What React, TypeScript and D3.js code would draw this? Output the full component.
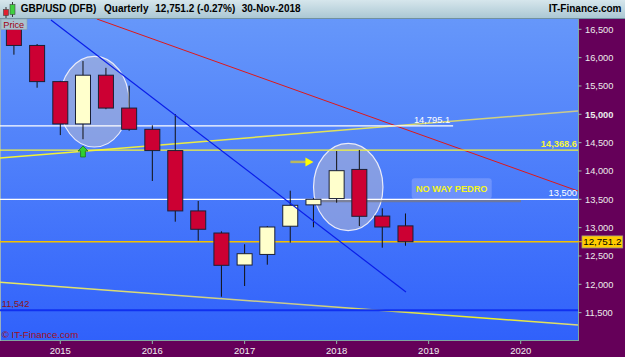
import React from "react";
import * as d3 from "d3";

// ---------- data ----------
const quarters = [
  "2014-07-01", "2014-10-01", "2015-01-01", "2015-04-01", "2015-07-01", "2015-10-01",
  "2016-01-01", "2016-04-01", "2016-07-01", "2016-10-01", "2017-01-01", "2017-04-01",
  "2017-07-01", "2017-10-01", "2018-01-01", "2018-04-01", "2018-07-01", "2018-10-01",
];
const opens = [17110, 16215, 15577, 14830, 15690, 15110, 14735, 14360, 13295, 12905, 12340, 12527, 13025, 13402, 13513, 14027, 13204, 13031];
const highs = [17190, 16240, 15590, 15940, 15820, 15505, 14806, 15005, 13470, 12935, 12706, 13029, 13652, 13520, 14352, 14370, 13341, 13250];
const lows = [16052, 15469, 14633, 14560, 15090, 14710, 13823, 13105, 12770, 11781, 11970, 12346, 12735, 13006, 13440, 13029, 12646, 12681];
const closes = [16215, 15577, 14830, 15690, 15110, 14735, 14360, 13295, 12971, 12335, 12540, 13011, 13394, 13500, 14005, 13200, 13011, 12751.2];

const yTicks = [16500, 16000, 15500, 15000, 14500, 14000, 13500, 13000, 12500, 12000, 11500];
const yearTicks = ["2015", "2016", "2017", "2018", "2019", "2020"];

// trend lines: [date, value] pairs
const blueTrend: [string, number][] = [["2014-11-25", 16664], ["2018-10-03", 11864]];
const redTrend: [string, number][] = [["2015-05-26", 16682], ["2020-08-15", 13647]];
const riseTrend: [string, number][] = [["2014-05-07", 14229], ["2020-08-15", 15058]];
const fallTrend: [string, number][] = [["2014-05-07", 12035], ["2020-08-15", 11282]];

const level147951 = 14795.1;
const level143686 = 14368.6;
const level13500 = 13500;
const lastClose = 12751.2;
const level11542 = 11542;

const title = "GBP/USD (DFB)";
const period = "Quarterly";
const lastText = "12,751.2 (-0.27%)";
const dateText = "30-Nov-2018";

// ---------- layout ----------
const W = 625, H = 357;
const PL = 0, PR = 578, PT = 19, PB = 341;
const FONT = "'Liberation Sans', Arial, sans-serif";

const parse = d3.timeParse("%Y-%m-%d");
const x = d3.scaleTime()
  .domain([parse("2015-01-01")!, parse("2020-01-01")!])
  .range([60.3, 520.7]);
const y = d3.scaleLinear().domain([15000, 12000]).range([114.3, 284.3]);
const fmt = d3.format(",");

const lineGen = d3.line<[string, number]>()
  .x((d) => x(parse(d[0])!))
  .y((d) => y(d[1]));

export default function App() {
  const candles = quarters.map((q, i) => ({
    cx: x(parse(q)!),
    o: opens[i], h: highs[i], l: lows[i], c: closes[i],
  }));
  const bw = 15;

  const e1 = { cx: x(parse("2015-05-16")!), cy: y(15222) };
  const e2 = { cx: x(parse("2018-02-16")!), cy: y(13717) };
  const arrowX = x(parse("2015-04-01")!);
  const arrowTip = y(14441);
  const yArrowY = y(14160);
  const yArrowX = x(parse("2017-10-01")!);

  return (
    <svg width={W} height={H} style={{ position: "fixed", left: 0, top: 0, display: "block" }} fontFamily={FONT}>
      <defs>
        <linearGradient id="bg" x1="0" y1="0" x2="0" y2="1">
          <stop offset="0" stopColor="#6697fa" />
          <stop offset="1" stopColor="#3061fb" />
        </linearGradient>
        <linearGradient id="hdr" x1="0" y1="0" x2="0" y2="1">
          <stop offset="0" stopColor="#d6e6ec" />
          <stop offset="1" stopColor="#a9c6d2" />
        </linearGradient>
        <linearGradient id="riseG" gradientUnits="userSpaceOnUse" x1="0" y1="0" x2="578" y2="0">
          <stop offset="0" stopColor="#f4f430" />
          <stop offset="0.5" stopColor="#e6e650" />
          <stop offset="1" stopColor="#c8c890" />
        </linearGradient>
        <linearGradient id="fallG" gradientUnits="userSpaceOnUse" x1="0" y1="0" x2="578" y2="0">
          <stop offset="0" stopColor="#e8e860" />
          <stop offset="0.5" stopColor="#c8c890" />
          <stop offset="0.85" stopColor="#f0f020" />
          <stop offset="1" stopColor="#d8d880" />
        </linearGradient>
        <clipPath id="plot">
          <rect x={PL} y={PT} width={PR - PL} height={PB - PT} />
        </clipPath>
      </defs>

      {/* axes backgrounds */}
      <rect x={0} y={0} width={W} height={H} fill="#650059" />
      <rect x={PL} y={PT} width={PR - PL} height={PB - PT} fill="url(#bg)" />
      <line x1={PR + 0.5} y1={PT} x2={PR + 0.5} y2={PB} stroke="#7fa5a0" />
      <line x1={PL} y1={PB - 0.5} x2={PR} y2={PB - 0.5} stroke="#7fa5a0" />
      <line x1={0.5} y1={PT} x2={0.5} y2={PB} stroke="#9ab0c0" />

      {/* header */}
      <rect x={0} y={0} width={W} height={PT} fill="url(#hdr)" />
      <line x1={0} y1={PT - 0.5} x2={W} y2={PT - 0.5} stroke="#7090a0" />
      {/* icon */}
      <line x1={6} y1={7} x2={6} y2={18} stroke="#333" />
      <rect x={3.5} y={9.5} width={5} height={6} fill="#e02030" stroke="#444" strokeWidth={0.6} />
      <line x1={12.5} y1={2} x2={12.5} y2={17} stroke="#333" />
      <rect x={10} y={4.5} width={5} height={10} fill="#40d040" stroke="#444" strokeWidth={0.6} />
      <g fontSize={10} fontWeight="bold" fill="#000">
        <text x={20.7} y={12}>{title}</text>
        <text x={104} y={12}>{period}</text>
        <text x={155.3} y={12}>{lastText}</text>
        <text x={241.7} y={12}>{dateText}</text>
        <text x={621.5} y={12} textAnchor="end">IT-Finance.com</text>
      </g>

      <g clipPath="url(#plot)">
        {/* ellipses (behind candles) */}
        <ellipse cx={e1.cx} cy={e1.cy} rx={34.7} ry={45.3} fill="rgba(190,190,205,0.5)" stroke="rgba(240,240,250,0.95)" strokeWidth={1.2} />
        <ellipse cx={e2.cx} cy={e2.cy} rx={34.7} ry={43.7} fill="rgba(190,190,205,0.5)" stroke="rgba(240,240,250,0.95)" strokeWidth={1.2} />

        {/* trend lines */}
        <path d={lineGen(fallTrend)!} stroke="url(#fallG)" strokeWidth={1.5} fill="none" />
        <path d={lineGen(riseTrend)!} stroke="url(#riseG)" strokeWidth={1.5} fill="none" />
        <path d={lineGen(redTrend)!} stroke="#e01818" strokeWidth={1} fill="none" />

        {/* horizontal levels */}
        <line x1={PL} x2={x(parse("2019-04-08")!)} y1={y(level147951)} y2={y(level147951)} stroke="#ffffff" strokeWidth={1.2} />
        <text x={x(parse("2019-04-08")!) - 3} y={y(level147951) - 3} fontSize={9.3} fill="#ffffff" textAnchor="end">{fmt(level147951)}</text>
        <line x1={PL} x2={PR} y1={y(level143686)} y2={y(level143686)} stroke="#f5f53a" strokeWidth={1.2} />
        <text x={PR - 1} y={y(level143686) - 3} fontSize={9.3} fontWeight="bold" fill="#f5f53a" textAnchor="end">{fmt(level143686)}</text>
        <line x1={x(parse("2017-11-01")!)} x2={521} y1={y(level13500) + 1.8} y2={y(level13500) + 1.8} stroke="rgba(120,120,130,0.75)" strokeWidth={2.5} />
        <line x1={PL} x2={PR} y1={y(level13500)} y2={y(level13500)} stroke="#ffffff" strokeWidth={1.2} />
        <text x={PR - 1} y={y(level13500) - 3} fontSize={9.3} fill="#ffffff" textAnchor="end">{fmt(level13500)}</text>
        <line x1={PL} x2={PR} y1={y(lastClose)} y2={y(lastClose)} stroke="#f2c000" strokeWidth={1.4} />
        <line x1={PL} x2={PR} y1={y(level11542)} y2={y(level11542)} stroke="#1030f0" strokeWidth={2} />
        <text x={1.7} y={y(level11542) - 3} fontSize={9.3} fill="#8c1418">{fmt(level11542)}</text>

        {/* candles */}
        {candles.map((c, i) => {
          const up = c.c >= c.o;
          const top = y(Math.max(c.o, c.c));
          const bot = y(Math.min(c.o, c.c));
          return (
            <g key={i}>
              <line x1={c.cx} x2={c.cx} y1={y(c.h)} y2={y(c.l)} stroke="#111" strokeWidth={1} />
              <rect x={c.cx - bw / 2} y={top} width={bw} height={Math.max(1, bot - top)}
                fill={up ? "#ffffcc" : "#cc0033"} stroke="#1a2035" strokeWidth={1} />
            </g>
          );
        })}

        {/* blue trend on top */}
        <path d={lineGen(blueTrend)!} stroke="#0a1ee8" strokeWidth={1.2} fill="none" />

        {/* green arrow */}
        <path d={`M${arrowX},${arrowTip} l5,5 h-2.6 v6 h-4.8 v-6 h-2.6 z`} fill="#30d030" stroke="#207020" strokeWidth={0.8} />

        {/* yellow arrow */}
        <line x1={yArrowX - 23} x2={yArrowX - 7} y1={yArrowY} y2={yArrowY} stroke="#b8b860" strokeWidth={2.5} />
        <path d={`M${yArrowX - 8},${yArrowY - 4.5} L${yArrowX},${yArrowY} L${yArrowX - 8},${yArrowY + 4.5} z`} fill="#ffff00" />

        {/* NO WAY PEDRO */}
        <rect x={411.7} y={178.3} width={80} height={20.7} rx={3} fill="rgba(200,210,255,0.28)" />
        <text x={451.7} y={192} fontSize={9.2} fontWeight="bold" fill="#f5f520" textAnchor="middle">NO WAY PEDRO</text>

        <text x={1.7} y={338} fontSize={9.7} fill="#a01020">© IT-Finance.com</text>
      </g>

      {/* Price label */}
      <rect x={1} y={PT} width={26} height={10.5} fill="#a9c3cf" stroke="#8aa0b0" strokeWidth={0.6} />
      <text x={3.3} y={27.5} fontSize={9.2} fill="#a00010">Price</text>

      {/* right axis */}
      {yTicks.map((t) => (
        <g key={t}>
          <line x1={PR} x2={PR + 3.5} y1={y(t)} y2={y(t)} stroke="#90b8a8" />
          <text x={585} y={y(t) + 3.3} fontSize={9.3} fontWeight={t === 15000 ? "bold" : "normal"} fill="#ececec">{fmt(t)}</text>
        </g>
      ))}
      <line x1={PR} x2={582} y1={y(lastClose)} y2={y(lastClose)} stroke="#f2c000" />
      <rect x={582} y={y(lastClose) - 5.8} width={40.7} height={12} fill="#ffcc00" stroke="#a0a080" strokeWidth={0.8} />
      <text x={602.3} y={y(lastClose) + 3.6} fontSize={9.8} fill="#000" textAnchor="middle">{fmt(lastClose)}</text>

      {/* bottom axis */}
      {yearTicks.map((t) => {
        const px = x(parse(`${t}-01-01`)!);
        return (
          <g key={t}>
            <line x1={px} x2={px} y1={PB} y2={PB + 3} stroke="#90b8a8" />
            <text x={px} y={354} fontSize={9.5} fill="#f0f0f0" textAnchor="middle">{t}</text>
          </g>
        );
      })}
    </svg>
  );
}
